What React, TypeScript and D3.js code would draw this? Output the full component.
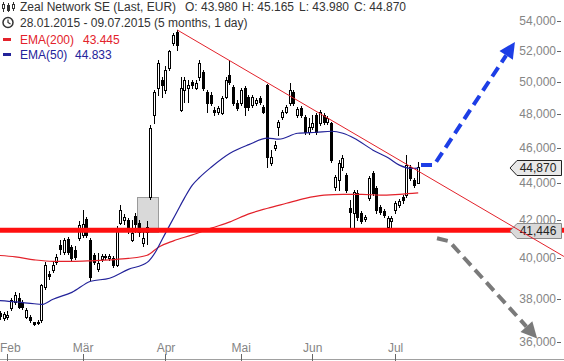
import React from 'react';
import * as d3 from 'd3';

const W = 564;
const H = 361;

// Trading days, index 0 = 28.01.2015 ... index 112 = 09.07.2015. Each entry: [open, high, low, close]
const ohlc: [number, number, number, number][] = [
  [37070, 37500, 36970, 37350], [37310, 37400, 37020, 37160], [37070, 37350, 36970, 37260], [37110, 37400, 37020, 37210],
  [37540, 38020, 37450, 37920], [37830, 38310, 37730, 38170], [38020, 38260, 37540, 37590], [37830, 37920, 37500, 37590],
  [37110, 37540, 37070, 37450], [37110, 37210, 36920, 36970], [36880, 36920, 36740, 36790], [36830, 36970, 36790, 36920],
  [36970, 38700, 36920, 38660], [38560, 39790, 38460, 39640], [39190, 39340, 38950, 39100], [39390, 39790, 39290, 39640],
  [39790, 40200, 39690, 40040], [40660, 40920, 40200, 40450], [40300, 41020, 40200, 40920], [40970, 41080, 40200, 40300],
  [40560, 40660, 39890, 39990], [40400, 40610, 39940, 40040], [41020, 41920, 40920, 41710], [41180, 42500, 41080, 41760],
  [42020, 42130, 41080, 41180], [40920, 41020, 38900, 39050], [40150, 40250, 39690, 39790], [39440, 40250, 39340, 39740],
  [39940, 40200, 39840, 40090], [40040, 40200, 39940, 40090], [39990, 40200, 39890, 40090], [39990, 40090, 39540, 39640],
  [39640, 41650, 39590, 41550], [41810, 42770, 41760, 42500], [41970, 42290, 41760, 42130], [41970, 42080, 41280, 41440],
  [40920, 41970, 40870, 41280], [42180, 42340, 41340, 41760], [41810, 41970, 41130, 41340], [40760, 41550, 40610, 41020],
  [41600, 41920, 40710, 41340], [43210, 47330, 43100, 47150], [47940, 49480, 47450, 49360], [49610, 51400, 49170, 51210],
  [50110, 50300, 49040, 49800], [49480, 51010, 49290, 50750], [50880, 52050, 50750, 51990], [52520, 53190, 52390, 53060],
  [53260, 53390, 52050, 52390], [48240, 50300, 48180, 49610], [49480, 50300, 48730, 50110], [49610, 50110, 48730, 49800],
  [49980, 50110, 49610, 49800], [49610, 50110, 49540, 49920], [50300, 51400, 50110, 51210], [50620, 50750, 49480, 49610],
  [49360, 49480, 48120, 48670], [49170, 49360, 48550, 48670], [48240, 48420, 47940, 48120], [48120, 48480, 48000, 48360],
  [48060, 49100, 48000, 48980], [49040, 50300, 48980, 50110], [50430, 51400, 49860, 49980], [49670, 49800, 48550, 48670],
  [48670, 48860, 48240, 48360], [48670, 49610, 48550, 49480], [49610, 49730, 47940, 48420], [49040, 49170, 48240, 48420],
  [48550, 49170, 48420, 49040], [48670, 48980, 48550, 48860], [48980, 49100, 48610, 48730], [48420, 48550, 48060, 48120],
  [49800, 49860, 44880, 45450], [45110, 45860, 45000, 45450], [45980, 46380, 45860, 46150], [47210, 47630, 46740, 47510],
  [47820, 48240, 47700, 48120], [48120, 48550, 48060, 48420], [48670, 49920, 48550, 49480], [49360, 49480, 48550, 48670],
  [47940, 48420, 47820, 48300], [48360, 48480, 47820, 47940], [47820, 47940, 46790, 46910], [46910, 47760, 46790, 47210],
  [47210, 47940, 47090, 47450], [47940, 48060, 46790, 46910], [47450, 48240, 47330, 48120], [47940, 48060, 47390, 47510],
  [47510, 47880, 47390, 47760], [47450, 47510, 45170, 45280], [43760, 44430, 43590, 44320], [44150, 45280, 43590, 45110],
  [44880, 45570, 44710, 45400], [44430, 44540, 43480, 43590], [42610, 43040, 41550, 42390], [42340, 43590, 41550, 43480],
  [43430, 43590, 41970, 42130], [42340, 42450, 41810, 41920], [42020, 42230, 41920, 42130], [43150, 44370, 43040, 44260],
  [44540, 44650, 43320, 43430], [43700, 43820, 42340, 42500], [42660, 42770, 42290, 42390], [42450, 42550, 42130, 42230],
  [41600, 42180, 41500, 42080], [41920, 42180, 41440, 42080], [42500, 42990, 42340, 42880], [42770, 43100, 42660, 42990],
  [43210, 43320, 42880, 43040], [43320, 45570, 43210, 45000], [44880, 45000, 44150, 44260], [44150, 44260, 43760, 43870],
  [43980, 45165, 43980, 44870],
];

const ema200Idx = [0, 5, 10, 15, 20, 25, 30, 35, 40, 43, 47, 52, 57, 62, 67, 72, 77, 82, 87, 92, 97, 102, 107, 112];
const ema200Val = [40150, 40070, 39920, 39840, 39840, 39870, 39920, 39990, 40150, 40560, 40890, 41200, 41550, 41880, 42310, 42610, 42880, 43150, 43320, 43370, 43370, 43320, 43370, 43445];

const ema50Idx = [0, 5, 10, 12, 15, 20, 25, 30, 35, 40, 42, 44, 46, 48, 50, 52, 54, 57, 62, 67, 72, 75, 80, 85, 89, 92, 95, 100, 104, 107, 110, 112];
const ema50Val = [37920, 37850, 37760, 37730, 37980, 38310, 38850, 39000, 39440, 39790, 40250, 40970, 41710, 42450, 43200, 43870, 44320, 44880, 45680, 46180, 46560, 46500, 46850, 46910, 46970, 46850, 46560, 45860, 45420, 45000, 44820, 44833];

const monthLabels = ['Feb', 'Mär', 'Apr', 'Mai', 'Jun', 'Jul'];
const monthIdx = [3, 23, 45, 65, 84, 106];

const yTicks = [36000, 38000, 40000, 42000, 44000, 46000, 48000, 50000, 52000, 54000];

const supportLevel = 41446;
const lastClose = 44870;
const trendLine: [number, number][] = [[48, 53390], [150.7, 40090]];
const blueArrow: [number, number][] = [[112.75, 45000], [116.2, 45000], [137.7, 52590]];
const grayArrow: [number, number][] = [[117, 41020], [120.2, 40870], [143.6, 36140]];
const boxIdx = [37.3, 42.9];
const boxPrice = [41340, 43210];

const FONT = '"Liberation Sans", Arial, sans-serif';
const fmt = (v: number) => d3.format(',.0f')(v);
const fmt3 = (v: number) => d3.format(',.3f')(v / 1000);

export default function App() {
  const x = d3.scaleLinear().domain([0, 112]).range([-3.4, 418.2]);
  const y = d3.scaleLog().domain([36000, 54000]).range([341.5, 21]);

  const curveLine = d3
    .line<[number, number]>()
    .x((d) => x(d[0]))
    .y((d) => y(d[1]))
    .curve(d3.curveMonotoneX);
  const straight = d3
    .line<[number, number]>()
    .x((d) => d[0])
    .y((d) => d[1]);

  const ema200Pts: [number, number][] = ema200Idx.map((d, i) => [d, ema200Val[i]]);
  const ema50Pts: [number, number][] = ema50Idx.map((d, i) => [d, ema50Val[i]]);

  const arrow = (pts: [number, number][], color: string, key: string) => {
    const px = pts.map((p) => [x(p[0]), y(p[1])] as [number, number]);
    const tip = px[px.length - 1];
    const prev = px[px.length - 2];
    const dx = tip[0] - prev[0];
    const dy = tip[1] - prev[1];
    const len = Math.hypot(dx, dy);
    const ux = dx / len;
    const uy = dy / len;
    const L = 16;
    const hw = 8;
    const base: [number, number] = [tip[0] - ux * L, tip[1] - uy * L];
    const linePts = [...px.slice(0, -1), base];
    const head = [
      tip,
      [base[0] - uy * hw, base[1] + ux * hw],
      [base[0] + uy * hw, base[1] - ux * hw],
    ];
    return (
      <g key={key}>
        <path d={straight(linePts) || ''} fill="none" stroke={color} strokeWidth={4} strokeDasharray="11,6" />
        <polygon points={head.map((p) => p.join(',')).join(' ')} fill={color} />
      </g>
    );
  };

  const priceTag = (v: number, fill: string, stroke: string, key: string) => {
    const cy = y(v);
    const t = Math.round(cy - 7.5) + 0.5;
    const b = t + 15;
    const xl = 510;
    const xr = 561.5;
    const pts = `${xl},${(t + b) / 2} ${xl + 7},${t} ${xr},${t} ${xr},${b} ${xl + 7},${b}`;
    return (
      <g key={key}>
        <polygon points={pts} fill={fill} stroke={stroke} strokeWidth={1} />
        <text x={538} y={b - 3.5} textAnchor="middle" fontSize={12} fill="#222" fontFamily={FONT}>
          {fmt(v)}
        </text>
      </g>
    );
  };

  return (
    <svg
      width={W}
      height={H}
      style={{ position: 'absolute', left: 0, top: 0, background: '#fff', display: 'block' }}
      fontFamily={FONT}
    >
      <rect x={0} y={0} width={W} height={H} fill="#fff" />

      {/* shaded box */}
      <rect
        x={Math.round(x(boxIdx[0])) + 0.5}
        y={Math.round(y(boxPrice[1])) + 0.5}
        width={Math.round(x(boxIdx[1]) - x(boxIdx[0]))}
        height={Math.round(y(boxPrice[0]) - y(boxPrice[1]))}
        fill="#d9d9d9"
        stroke="#9a9a9a"
      />

      {/* y-axis labels */}
      {yTicks.map((t) => (
        <g key={t}>
          <text x={556} y={y(t) + 4} textAnchor="end" fontSize={12} fill="#858585">
            {fmt(t)}
          </text>
          <line x1={557} x2={561} y1={Math.round(y(t)) + 0.5} y2={Math.round(y(t)) + 0.5} stroke="#666" />
        </g>
      ))}

      {/* bottom axis */}
      <line x1={0} x2={W} y1={359.5} y2={359.5} stroke="#a0a0a0" />
      {monthIdx.map((m, i) => {
        const tx = x(m);
        const nearEdge = tx < 11;
        return (
          <g key={m}>
            <line x1={Math.floor(tx) + 0.5} x2={Math.floor(tx) + 0.5} y1={354} y2={361} stroke="#666" />
            <text
              x={nearEdge ? 0 : tx}
              y={352}
              textAnchor={nearEdge ? 'start' : 'middle'}
              fontSize={12}
              fill="#858585"
            >
              {monthLabels[i]}
            </text>
          </g>
        );
      })}

      {/* candles */}
      {ohlc.map((d, i) => {
        const [o, h, l, c] = d;
        const cx = Math.floor(x(i));
        const up = c >= o;
        const top = Math.round(y(Math.max(o, c)));
        const bot = Math.round(y(Math.min(o, c)));
        const hh = Math.round(y(h));
        const ll = Math.round(y(l));
        return (
          <g key={i}>
            <line x1={cx + 0.5} x2={cx + 0.5} y1={hh} y2={ll + 1} stroke="#000" />
            <rect
              x={cx - 0.5}
              y={top + 0.5}
              width={2}
              height={Math.max(bot - top, 1)}
              fill={up ? '#fff' : '#000'}
              stroke="#000"
            />
          </g>
        );
      })}

      {/* EMA lines */}
      <path d={curveLine(ema200Pts) || ''} fill="none" stroke="#e3222b" strokeWidth={1.2} />
      <path d={curveLine(ema50Pts) || ''} fill="none" stroke="#23239a" strokeWidth={1.2} />

      {/* support line */}
      <line x1={0} x2={W} y1={y(supportLevel)} y2={y(supportLevel)} stroke="#ff1010" strokeWidth={5} />

      {/* arrows */}
      {arrow(blueArrow, '#1d3ee6', 'blue')}
      {arrow(grayArrow, '#7a7a7a', 'gray')}

      {/* price tags */}
      {priceTag(lastClose, '#e8e8e8', '#222', 'last')}
      {priceTag(supportLevel, '#d9d9d9', '#8a8a8a', 'sup')}

      {/* trend line */}
      <line
        x1={x(trendLine[0][0])}
        y1={y(trendLine[0][1])}
        x2={x(trendLine[1][0])}
        y2={y(trendLine[1][1])}
        stroke="#e3222b"
        strokeWidth={1}
      />

      {/* header */}
      <g stroke="#333" fill="none" strokeWidth={1}>
        <line x1={3.5} x2={3.5} y1={2} y2={12} />
        <rect x={2.5} y={4.5} width={2} height={4} fill="#fff" />
        <line x1={8.5} x2={8.5} y1={3} y2={12} />
        <rect x={7.5} y={5.5} width={2} height={5} fill="#333" />
        <line x1={13.5} x2={13.5} y1={2} y2={11} />
        <rect x={12.5} y={4.5} width={2} height={4} fill="#fff" />
      </g>
      <text x={20} y={10.5} fontSize={12} fill="#333">Zeal Network SE (Last, EUR)</text>
      <text x={185} y={10.5} fontSize={12} fill="#333">O: {fmt3(43980)}</text>
      <text x={242} y={10.5} fontSize={12} fill="#333">H: {fmt3(45165)}</text>
      <text x={299} y={10.5} fontSize={12} fill="#333">L: {fmt3(43980)}</text>
      <text x={354} y={10.5} fontSize={12} fill="#333">C: {fmt3(44870)}</text>

      <g stroke="#333" fill="none" strokeWidth={1.5}>
        <circle cx={8} cy={22.5} r={5} />
        <polyline points="8,19.5 8,22.5 10.5,24" strokeWidth={1.2} />
      </g>
      <text x={20} y={27} fontSize={12} fill="#333">28.01.2015 - 09.07.2015 (5 months, 1 day)</text>

      <rect x={3} y={38} width={8} height={3} fill="#e3222b" />
      <text x={20} y={43.5} fontSize={12} fill="#e3222b">EMA(200)</text>
      <text x={83} y={43.5} fontSize={12} fill="#e3222b">{fmt3(43445)}</text>

      <rect x={3} y={53} width={8} height={3} fill="#23239a" />
      <text x={20} y={58.5} fontSize={12} fill="#23239a">EMA(50)</text>
      <text x={75} y={58.5} fontSize={12} fill="#23239a">{fmt3(44833)}</text>
    </svg>
  );
}
